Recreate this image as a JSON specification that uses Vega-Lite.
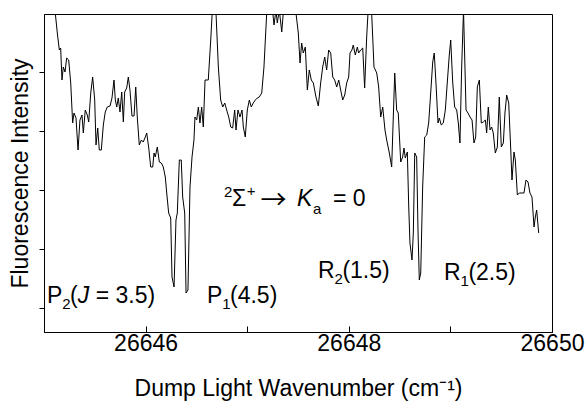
{
  "$schema": "https://vega.github.io/schema/vega-lite/v6.json",
  "autosize": "none",
  "width": 508,
  "height": 318,
  "padding": {"left": 44, "top": 14, "right": 33, "bottom": 73},
  "config": {
    "view": {"stroke": "#000", "strokeWidth": 1},
    "font": "Liberation Sans",
    "axis": {"grid": false, "domainColor": "#000", "tickColor": "#000", "labelColor": "#000", "titleColor": "#000", "labelFont": "Liberation Sans", "titleFont": "Liberation Sans", "titleFontWeight": "normal", "labelFontSize": 23, "titleFontSize": 23}
  },
  "datasets": {
    "spectrum": [
      {"wavenumber": 26645.098, "intensity": 332},
      {"wavenumber": 26645.131, "intensity": 299},
      {"wavenumber": 26645.151, "intensity": 282},
      {"wavenumber": 26645.164, "intensity": 284},
      {"wavenumber": 26645.177, "intensity": 252},
      {"wavenumber": 26645.190, "intensity": 265},
      {"wavenumber": 26645.207, "intensity": 260},
      {"wavenumber": 26645.223, "intensity": 274},
      {"wavenumber": 26645.243, "intensity": 272},
      {"wavenumber": 26645.263, "intensity": 249},
      {"wavenumber": 26645.282, "intensity": 209},
      {"wavenumber": 26645.295, "intensity": 219},
      {"wavenumber": 26645.315, "intensity": 214},
      {"wavenumber": 26645.335, "intensity": 182},
      {"wavenumber": 26645.354, "intensity": 212},
      {"wavenumber": 26645.374, "intensity": 217},
      {"wavenumber": 26645.387, "intensity": 199},
      {"wavenumber": 26645.406, "intensity": 222},
      {"wavenumber": 26645.426, "intensity": 217},
      {"wavenumber": 26645.440, "intensity": 210},
      {"wavenumber": 26645.460, "intensity": 239},
      {"wavenumber": 26645.479, "intensity": 255},
      {"wavenumber": 26645.499, "intensity": 232},
      {"wavenumber": 26645.512, "intensity": 187},
      {"wavenumber": 26645.529, "intensity": 204},
      {"wavenumber": 26645.544, "intensity": 182},
      {"wavenumber": 26645.564, "intensity": 182},
      {"wavenumber": 26645.584, "intensity": 207},
      {"wavenumber": 26645.603, "intensity": 220},
      {"wavenumber": 26645.623, "intensity": 225},
      {"wavenumber": 26645.650, "intensity": 226},
      {"wavenumber": 26645.669, "intensity": 234},
      {"wavenumber": 26645.689, "intensity": 252},
      {"wavenumber": 26645.702, "intensity": 232},
      {"wavenumber": 26645.716, "intensity": 225},
      {"wavenumber": 26645.731, "intensity": 234},
      {"wavenumber": 26645.748, "intensity": 220},
      {"wavenumber": 26645.765, "intensity": 240},
      {"wavenumber": 26645.781, "intensity": 210},
      {"wavenumber": 26645.794, "intensity": 240},
      {"wavenumber": 26645.814, "intensity": 244},
      {"wavenumber": 26645.830, "intensity": 255},
      {"wavenumber": 26645.846, "intensity": 242},
      {"wavenumber": 26645.866, "intensity": 216},
      {"wavenumber": 26645.886, "intensity": 216},
      {"wavenumber": 26645.903, "intensity": 245},
      {"wavenumber": 26645.918, "intensity": 215},
      {"wavenumber": 26645.938, "intensity": 187},
      {"wavenumber": 26645.958, "intensity": 192},
      {"wavenumber": 26645.977, "intensity": 190},
      {"wavenumber": 26645.997, "intensity": 195},
      {"wavenumber": 26646.011, "intensity": 199},
      {"wavenumber": 26646.031, "intensity": 184},
      {"wavenumber": 26646.050, "intensity": 165},
      {"wavenumber": 26646.070, "intensity": 165},
      {"wavenumber": 26646.083, "intensity": 179},
      {"wavenumber": 26646.095, "intensity": 175},
      {"wavenumber": 26646.115, "intensity": 185},
      {"wavenumber": 26646.135, "intensity": 170},
      {"wavenumber": 26646.155, "intensity": 169},
      {"wavenumber": 26646.174, "intensity": 165},
      {"wavenumber": 26646.194, "intensity": 155},
      {"wavenumber": 26646.208, "intensity": 139},
      {"wavenumber": 26646.227, "intensity": 119},
      {"wavenumber": 26646.247, "intensity": 114},
      {"wavenumber": 26646.260, "intensity": 55},
      {"wavenumber": 26646.280, "intensity": 45},
      {"wavenumber": 26646.299, "intensity": 112},
      {"wavenumber": 26646.312, "intensity": 119},
      {"wavenumber": 26646.332, "intensity": 172},
      {"wavenumber": 26646.351, "intensity": 172},
      {"wavenumber": 26646.365, "intensity": 135},
      {"wavenumber": 26646.385, "intensity": 119},
      {"wavenumber": 26646.398, "intensity": 39},
      {"wavenumber": 26646.417, "intensity": 42},
      {"wavenumber": 26646.437, "intensity": 145},
      {"wavenumber": 26646.457, "intensity": 175},
      {"wavenumber": 26646.476, "intensity": 192},
      {"wavenumber": 26646.486, "intensity": 215},
      {"wavenumber": 26646.503, "intensity": 212},
      {"wavenumber": 26646.519, "intensity": 225},
      {"wavenumber": 26646.535, "intensity": 209},
      {"wavenumber": 26646.552, "intensity": 225},
      {"wavenumber": 26646.568, "intensity": 205},
      {"wavenumber": 26646.585, "intensity": 252},
      {"wavenumber": 26646.617, "intensity": 252},
      {"wavenumber": 26646.641, "intensity": 292},
      {"wavenumber": 26646.673, "intensity": 352},
      {"wavenumber": 26646.693, "intensity": 319},
      {"wavenumber": 26646.716, "intensity": 265},
      {"wavenumber": 26646.739, "intensity": 232},
      {"wavenumber": 26646.759, "intensity": 225},
      {"wavenumber": 26646.779, "intensity": 229},
      {"wavenumber": 26646.798, "intensity": 222},
      {"wavenumber": 26646.818, "intensity": 215},
      {"wavenumber": 26646.838, "intensity": 205},
      {"wavenumber": 26646.857, "intensity": 204},
      {"wavenumber": 26646.877, "intensity": 222},
      {"wavenumber": 26646.890, "intensity": 202},
      {"wavenumber": 26646.909, "intensity": 222},
      {"wavenumber": 26646.929, "intensity": 215},
      {"wavenumber": 26646.949, "intensity": 222},
      {"wavenumber": 26646.962, "intensity": 205},
      {"wavenumber": 26646.981, "intensity": 195},
      {"wavenumber": 26647.001, "intensity": 222},
      {"wavenumber": 26647.021, "intensity": 232},
      {"wavenumber": 26647.040, "intensity": 225},
      {"wavenumber": 26647.060, "intensity": 229},
      {"wavenumber": 26647.080, "intensity": 232},
      {"wavenumber": 26647.099, "intensity": 234},
      {"wavenumber": 26647.119, "intensity": 235},
      {"wavenumber": 26647.143, "intensity": 239},
      {"wavenumber": 26647.165, "intensity": 265},
      {"wavenumber": 26647.192, "intensity": 319},
      {"wavenumber": 26647.224, "intensity": 347},
      {"wavenumber": 26647.264, "intensity": 307},
      {"wavenumber": 26647.283, "intensity": 322},
      {"wavenumber": 26647.296, "intensity": 309},
      {"wavenumber": 26647.316, "intensity": 322},
      {"wavenumber": 26647.340, "intensity": 300},
      {"wavenumber": 26647.355, "intensity": 319},
      {"wavenumber": 26647.421, "intensity": 352},
      {"wavenumber": 26647.480, "intensity": 319},
      {"wavenumber": 26647.503, "intensity": 299},
      {"wavenumber": 26647.520, "intensity": 269},
      {"wavenumber": 26647.536, "intensity": 289},
      {"wavenumber": 26647.552, "intensity": 279},
      {"wavenumber": 26647.572, "intensity": 285},
      {"wavenumber": 26647.592, "intensity": 242},
      {"wavenumber": 26647.611, "intensity": 262},
      {"wavenumber": 26647.631, "intensity": 252},
      {"wavenumber": 26647.651, "intensity": 249},
      {"wavenumber": 26647.677, "intensity": 235},
      {"wavenumber": 26647.700, "intensity": 226},
      {"wavenumber": 26647.723, "intensity": 249},
      {"wavenumber": 26647.743, "intensity": 265},
      {"wavenumber": 26647.763, "intensity": 275},
      {"wavenumber": 26647.782, "intensity": 262},
      {"wavenumber": 26647.802, "intensity": 282},
      {"wavenumber": 26647.822, "intensity": 279},
      {"wavenumber": 26647.842, "intensity": 255},
      {"wavenumber": 26647.861, "intensity": 252},
      {"wavenumber": 26647.881, "intensity": 245},
      {"wavenumber": 26647.901, "intensity": 252},
      {"wavenumber": 26647.920, "intensity": 242},
      {"wavenumber": 26647.940, "intensity": 232},
      {"wavenumber": 26647.960, "intensity": 237},
      {"wavenumber": 26647.979, "intensity": 249},
      {"wavenumber": 26647.999, "intensity": 255},
      {"wavenumber": 26648.012, "intensity": 279},
      {"wavenumber": 26648.031, "intensity": 282},
      {"wavenumber": 26648.044, "intensity": 287},
      {"wavenumber": 26648.064, "intensity": 277},
      {"wavenumber": 26648.084, "intensity": 285},
      {"wavenumber": 26648.097, "intensity": 279},
      {"wavenumber": 26648.117, "intensity": 282},
      {"wavenumber": 26648.137, "intensity": 284},
      {"wavenumber": 26648.156, "intensity": 244},
      {"wavenumber": 26648.176, "intensity": 295},
      {"wavenumber": 26648.189, "intensity": 319},
      {"wavenumber": 26648.209, "intensity": 337},
      {"wavenumber": 26648.225, "intensity": 319},
      {"wavenumber": 26648.248, "intensity": 265},
      {"wavenumber": 26648.275, "intensity": 259},
      {"wavenumber": 26648.294, "intensity": 245},
      {"wavenumber": 26648.314, "intensity": 215},
      {"wavenumber": 26648.334, "intensity": 225},
      {"wavenumber": 26648.356, "intensity": 202},
      {"wavenumber": 26648.373, "intensity": 192},
      {"wavenumber": 26648.399, "intensity": 179},
      {"wavenumber": 26648.422, "intensity": 165},
      {"wavenumber": 26648.452, "intensity": 259},
      {"wavenumber": 26648.471, "intensity": 222},
      {"wavenumber": 26648.487, "intensity": 219},
      {"wavenumber": 26648.511, "intensity": 170},
      {"wavenumber": 26648.530, "intensity": 175},
      {"wavenumber": 26648.543, "intensity": 184},
      {"wavenumber": 26648.556, "intensity": 174},
      {"wavenumber": 26648.576, "intensity": 180},
      {"wavenumber": 26648.590, "intensity": 125},
      {"wavenumber": 26648.602, "intensity": 89},
      {"wavenumber": 26648.622, "intensity": 72},
      {"wavenumber": 26648.635, "intensity": 99},
      {"wavenumber": 26648.649, "intensity": 179},
      {"wavenumber": 26648.668, "intensity": 175},
      {"wavenumber": 26648.681, "intensity": 102},
      {"wavenumber": 26648.694, "intensity": 52},
      {"wavenumber": 26648.708, "intensity": 59},
      {"wavenumber": 26648.727, "intensity": 145},
      {"wavenumber": 26648.747, "intensity": 195},
      {"wavenumber": 26648.767, "intensity": 197},
      {"wavenumber": 26648.786, "intensity": 209},
      {"wavenumber": 26648.806, "intensity": 239},
      {"wavenumber": 26648.826, "intensity": 270},
      {"wavenumber": 26648.841, "intensity": 279},
      {"wavenumber": 26648.858, "intensity": 249},
      {"wavenumber": 26648.878, "intensity": 209},
      {"wavenumber": 26648.891, "intensity": 214},
      {"wavenumber": 26648.910, "intensity": 207},
      {"wavenumber": 26648.930, "intensity": 209},
      {"wavenumber": 26648.950, "intensity": 222},
      {"wavenumber": 26648.969, "intensity": 249},
      {"wavenumber": 26648.989, "intensity": 277},
      {"wavenumber": 26649.003, "intensity": 292},
      {"wavenumber": 26649.023, "intensity": 249},
      {"wavenumber": 26649.042, "intensity": 225},
      {"wavenumber": 26649.062, "intensity": 222},
      {"wavenumber": 26649.078, "intensity": 209},
      {"wavenumber": 26649.094, "intensity": 189},
      {"wavenumber": 26649.111, "intensity": 265},
      {"wavenumber": 26649.129, "intensity": 322},
      {"wavenumber": 26649.154, "intensity": 222},
      {"wavenumber": 26649.173, "intensity": 219},
      {"wavenumber": 26649.193, "intensity": 215},
      {"wavenumber": 26649.213, "intensity": 212},
      {"wavenumber": 26649.232, "intensity": 189},
      {"wavenumber": 26649.249, "intensity": 195},
      {"wavenumber": 26649.265, "intensity": 245},
      {"wavenumber": 26649.285, "intensity": 252},
      {"wavenumber": 26649.304, "intensity": 209},
      {"wavenumber": 26649.324, "intensity": 210},
      {"wavenumber": 26649.344, "intensity": 212},
      {"wavenumber": 26649.357, "intensity": 199},
      {"wavenumber": 26649.373, "intensity": 225},
      {"wavenumber": 26649.390, "intensity": 202},
      {"wavenumber": 26649.406, "intensity": 205},
      {"wavenumber": 26649.422, "intensity": 199},
      {"wavenumber": 26649.442, "intensity": 179},
      {"wavenumber": 26649.462, "intensity": 185},
      {"wavenumber": 26649.481, "intensity": 235},
      {"wavenumber": 26649.501, "intensity": 185},
      {"wavenumber": 26649.521, "intensity": 189},
      {"wavenumber": 26649.537, "intensity": 219},
      {"wavenumber": 26649.554, "intensity": 237},
      {"wavenumber": 26649.574, "intensity": 229},
      {"wavenumber": 26649.593, "intensity": 185},
      {"wavenumber": 26649.606, "intensity": 152},
      {"wavenumber": 26649.626, "intensity": 180},
      {"wavenumber": 26649.639, "intensity": 172},
      {"wavenumber": 26649.659, "intensity": 137},
      {"wavenumber": 26649.678, "intensity": 139},
      {"wavenumber": 26649.705, "intensity": 139},
      {"wavenumber": 26649.724, "intensity": 139},
      {"wavenumber": 26649.744, "intensity": 152},
      {"wavenumber": 26649.764, "intensity": 150},
      {"wavenumber": 26649.783, "intensity": 139},
      {"wavenumber": 26649.803, "intensity": 135},
      {"wavenumber": 26649.823, "intensity": 105},
      {"wavenumber": 26649.836, "intensity": 115},
      {"wavenumber": 26649.849, "intensity": 122},
      {"wavenumber": 26649.869, "intensity": 99}
    ],
    "labels_main": [
      {"wavenumber": 26645.030, "intensity": 29, "label": "P"},
      {"wavenumber": 26645.257, "intensity": 29, "label": "("},
      {"wavenumber": 26645.509, "intensity": 29, "label": "= 3.5)"},
      {"wavenumber": 26646.604, "intensity": 29, "label": "P"},
      {"wavenumber": 26646.831, "intensity": 29, "label": "(4.5)"},
      {"wavenumber": 26647.697, "intensity": 54, "label": "R"},
      {"wavenumber": 26647.937, "intensity": 54, "label": "(1.5)"},
      {"wavenumber": 26648.937, "intensity": 52, "label": "R"},
      {"wavenumber": 26649.177, "intensity": 52, "label": "(2.5)"},
      {"wavenumber": 26646.850, "intensity": 126, "label": "Σ"},
      {"wavenumber": 26647.844, "intensity": 126, "label": "= 0"}
    ],
    "labels_arrow": [
      {"wavenumber": 26647.130, "intensity": 123, "label": "→"}
    ],
    "labels_small": [
      {"wavenumber": 26645.180, "intensity": 23, "label": "2"},
      {"wavenumber": 26646.755, "intensity": 23, "label": "1"},
      {"wavenumber": 26647.860, "intensity": 48, "label": "2"},
      {"wavenumber": 26649.100, "intensity": 46, "label": "1"},
      {"wavenumber": 26646.771, "intensity": 135, "label": "2"},
      {"wavenumber": 26646.995, "intensity": 136, "label": "+"},
      {"wavenumber": 26647.648, "intensity": 118, "label": "a"}
    ],
    "labels_italic": [
      {"wavenumber": 26645.333, "intensity": 29, "label": "J"},
      {"wavenumber": 26647.490, "intensity": 126, "label": "K"}
    ]
  },
  "encoding": {
    "x": {
      "field": "wavenumber", "type": "quantitative",
      "scale": {"domain": [26645, 26650], "nice": false, "zero": false},
      "axis": {
        "title": "Dump Light Wavenumber (cm⁻¹)",
        "values": [26645, 26646, 26647, 26648, 26649, 26650],
        "labelExpr": "datum.value % 2 == 0 ? format(datum.value, 'd') : ''",
        "labelFlush": false,
        "labelOverlap": false,
        "tickSize": -6,
        "labelPadding": 6,
        "titlePadding": 22
      }
    },
    "y": {
      "field": "intensity", "type": "quantitative",
      "scale": {"domain": [0, 318], "nice": false, "zero": false},
      "axis": {
        "title": "Fluorescence Intensity",
        "values": [24, 83, 142, 201, 260],
        "labels": false,
        "tickSize": 5,
        "titlePadding": 6
      }
    }
  },
  "layer": [
    {
      "data": {"name": "spectrum"},
      "mark": {"type": "line", "color": "#000", "strokeWidth": 1, "clip": true, "interpolate": "linear"}
    },
    {
      "data": {"name": "labels_main"},
      "mark": {"type": "text", "align": "left", "baseline": "alphabetic", "fontSize": 23, "font": "Liberation Sans", "color": "#000"},
      "encoding": {"text": {"field": "label"}}
    },
    {
      "data": {"name": "labels_arrow"},
      "mark": {"type": "text", "align": "left", "baseline": "alphabetic", "fontSize": 26, "font": "Noto Sans CJK SC", "color": "#000"},
      "encoding": {"text": {"field": "label"}}
    },
    {
      "data": {"name": "labels_small"},
      "mark": {"type": "text", "align": "left", "baseline": "alphabetic", "fontSize": 15, "font": "Liberation Sans", "color": "#000"},
      "encoding": {"text": {"field": "label"}}
    },
    {
      "data": {"name": "labels_italic"},
      "mark": {"type": "text", "align": "left", "baseline": "alphabetic", "fontSize": 23, "font": "Liberation Sans", "fontStyle": "italic", "color": "#000"},
      "encoding": {"text": {"field": "label"}}
    }
  ]
}
